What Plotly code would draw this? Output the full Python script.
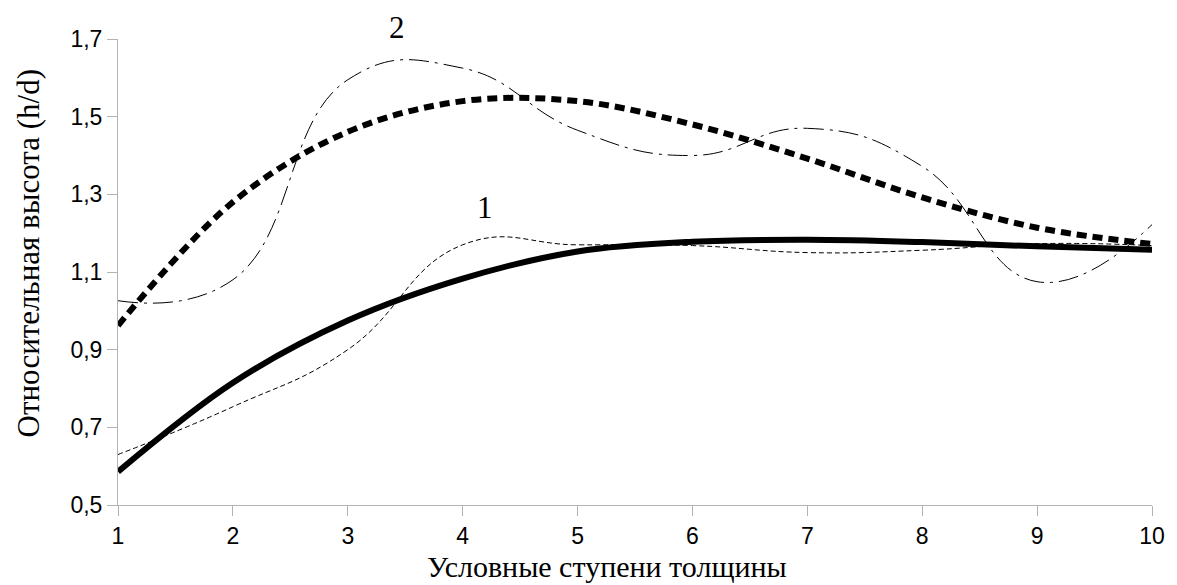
import plotly.graph_objects as go

# ---- data ----
steps = [1, 2, 3, 4, 5, 6, 7, 8, 9, 10]

# curve 1: observed (thin dashed)
obs1 = [0.630, 0.753, 0.900, 1.170, 1.170, 1.168, 1.150, 1.156, 1.173, 1.168]
# curve 1: trend (thick solid)
trend1 = [0.586, 0.815, 0.975, 1.083, 1.153, 1.178, 1.183, 1.177, 1.166, 1.157]

# curve 2: observed (thin dash-dot)
obs2 = [1.026, 1.080, 1.595, 1.625, 1.465, 1.400, 1.470, 1.372, 1.075, 1.222]
# curve 2: trend (thick dashed)
trend2 = [0.962, 1.280, 1.461, 1.540, 1.540, 1.480, 1.392, 1.292, 1.214, 1.172]

y_ticks = [0.5, 0.7, 0.9, 1.1, 1.3, 1.5, 1.7]
y_tick_text = ["0,5", "0,7", "0,9", "1,1", "1,3", "1,5", "1,7"]
x_ticks = steps
x_tick_text = [str(v) for v in steps]

x_title = "Условные ступени толщины"
y_title = "Относительная высота (h/d)"
label1 = ("1", 4.19, 1.265)      # data coordinates
label2 = ("2", 3.43, 1.729)      # just above the top of the axis

SERIF = "Liberation Serif"
SANS = "Liberation Sans"

W, H = 1177, 585
M = dict(l=118, r=16, t=39, b=80)
plot_h = H - M["t"] - M["b"]

fig = go.Figure()
fig.add_trace(go.Scatter(x=steps, y=obs2, mode="lines",
                         line=dict(color="black", width=1, shape="spline", smoothing=1.3,
                                   dash="20px,6px,3px,6px"), showlegend=False))
fig.add_trace(go.Scatter(x=steps, y=obs1, mode="lines",
                         line=dict(color="black", width=1, shape="spline", smoothing=1.3,
                                   dash="5px,3px"), showlegend=False))
fig.add_trace(go.Scatter(x=steps, y=trend2, mode="lines",
                         line=dict(color="black", width=6, shape="spline", smoothing=1,
                                   dash="10px,6px"), showlegend=False))
fig.add_trace(go.Scatter(x=steps, y=trend1, mode="lines",
                         line=dict(color="black", width=6, shape="spline", smoothing=1),
                         showlegend=False))

y_lo, y_hi = y_ticks[0], y_ticks[-1]
fig.add_annotation(x=label1[1], y=label1[2], text=label1[0], showarrow=False,
                   xanchor="center", yanchor="middle",
                   font=dict(family=SERIF, size=31, color="black"))
fig.add_annotation(x=label2[1], xref="x", yref="paper",
                   y=(label2[2] - y_lo) / (y_hi - y_lo), text=label2[0], showarrow=False,
                   xanchor="center", yanchor="middle",
                   font=dict(family=SERIF, size=31, color="black"))

# axis titles (placed as paper-anchored text)
fig.add_annotation(text=x_title, xref="paper", yref="paper", x=0.473,
                   y=-(M["b"] - 1) / plot_h,
                   xanchor="center", yanchor="bottom", showarrow=False, borderpad=0,
                   font=dict(family=SERIF, size=30, color="black"))
fig.add_annotation(text=y_title, xref="paper", yref="paper", x=-0.087, y=0.54,
                   xanchor="center", yanchor="middle", textangle=-90, showarrow=False,
                   font=dict(family=SERIF, size=31, color="black"))

axis_common = dict(showgrid=False, zeroline=False, showline=True, linecolor="#b3b3b3",
                   linewidth=1, ticks="outside", tickcolor="#b3b3b3", ticklen=10,
                   tickfont=dict(family=SANS, size=23, color="black"))

fig.update_xaxes(range=[1, 10], tickvals=x_ticks, ticktext=x_tick_text, **axis_common)
fig.update_yaxes(range=[y_lo, y_hi], tickvals=y_ticks, ticktext=y_tick_text, **axis_common)

fig.update_layout(width=W, height=H, plot_bgcolor="white", paper_bgcolor="white",
                  margin=M)
fig.write_html("out.html", config={"displayModeBar": False},
               post_script="document.body.style.margin='0px';document.body.style.overflow='hidden';")
